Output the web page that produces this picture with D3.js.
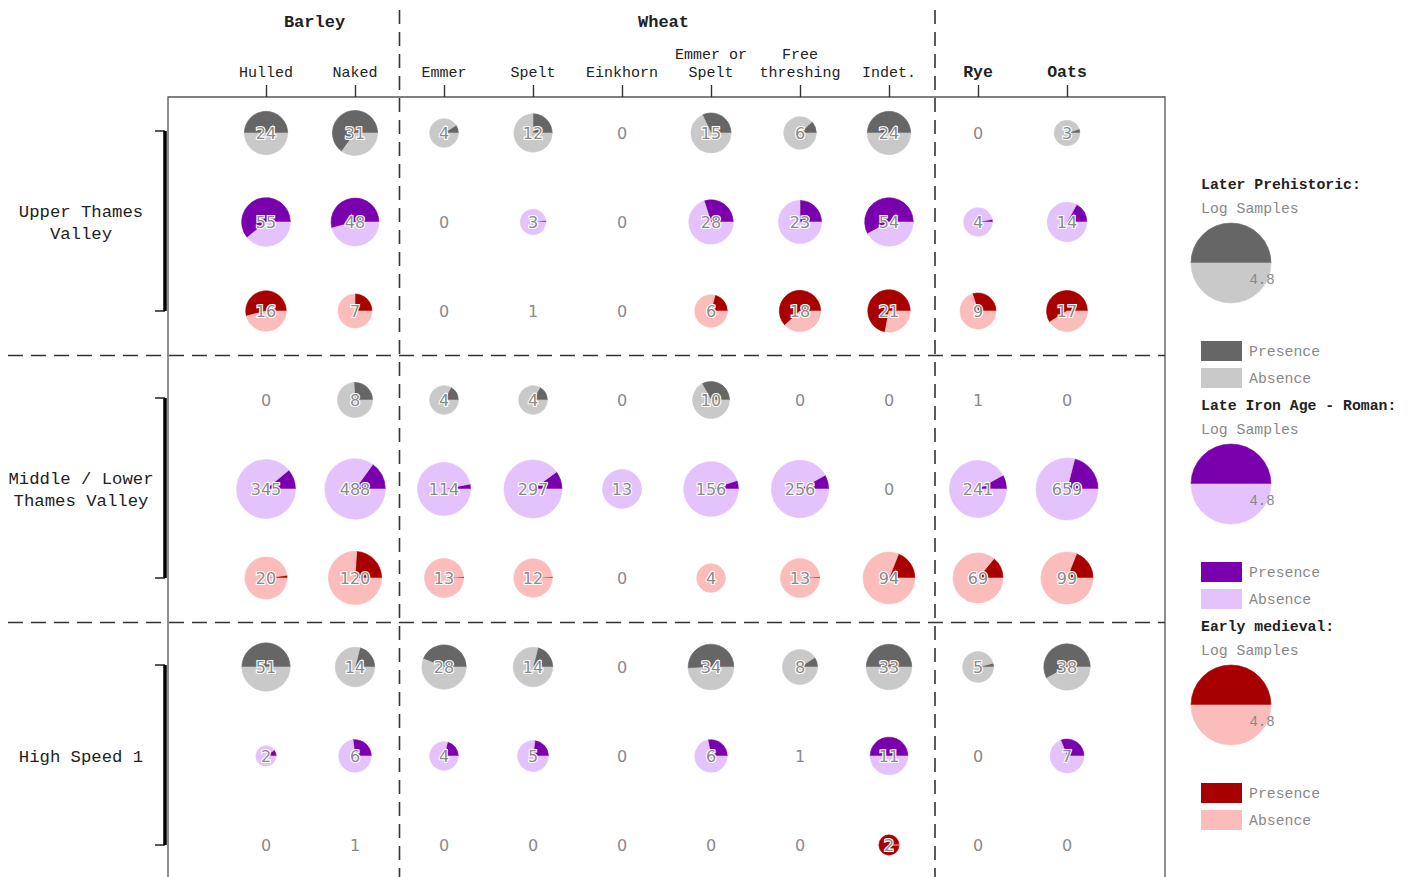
<!DOCTYPE html>
<html><head><meta charset="utf-8">
<script src="https://cdn.jsdelivr.net/npm/d3@7"></script>
<style>body{margin:0;background:#fff}svg{display:block}</style>
</head><body>
<svg id="chart" width="1408" height="877"></svg>
<script>
// ---------- data ----------
const columns = ["Hulled","Naked","Emmer","Spelt","Einkhorn","Emmer or Spelt","Free threshing","Indet.","Rye","Oats"];
const columnLabels = [["Hulled"],["Naked"],["Emmer"],["Spelt"],["Einkhorn"],["Emmer or","Spelt"],["Free","threshing"],["Indet."],["Rye"],["Oats"]];
const boldColumns = ["Rye","Oats"];
const groups = [{name:"Barley", from:"Hulled", to:"Naked"},{name:"Wheat", from:"Emmer", to:"Indet."}];
const regions = ["Upper Thames\nValley","Middle / Lower\nThames Valley","High Speed 1"];
const periods = ["Later Prehistoric","Late Iron Age - Roman","Early medieval"];
const presenceColors = ["#666666","#7a00ad","#a80000"];
const absenceColors = ["#c9c9c9","#e4c3fc","#fbbcbc"];

// samples (n) and presence share, per region x period row
const samplesUTV_LP  = [24,31,4,12,0,15,6,24,0,3];
const presUTV_LP     = [0.50,0.65,0.09,0.25,0,0.32,0.12,0.50,0,0.05];
const samplesUTV_LIA = [55,48,0,3,0,28,23,54,4,14];
const presUTV_LIA    = [0.61,0.54,0,0.02,0,0.30,0.25,0.58,0.03,0.17];
const samplesUTV_EM  = [16,7,0,1,0,6,18,21,9,17];
const presUTV_EM     = [0.54,0.25,0,0,0,0.21,0.62,0.72,0.30,0.59];
const samplesMLTV_LP  = [0,8,4,4,0,10,0,0,1,0];
const presMLTV_LP     = [0,0.26,0.17,0.17,0,0.33,0,0,0,0];
const samplesMLTV_LIA = [345,488,114,297,13,156,256,0,241,659];
const presMLTV_LIA    = [0.11,0.15,0.03,0.10,0,0.05,0.08,0,0.08,0.21];
const samplesMLTV_EM  = [20,120,13,12,0,4,13,94,69,99];
const presMLTV_EM     = [0.02,0.24,0.01,0.01,0,0,0.01,0.19,0.14,0.19];
const samplesHS1_LP  = [51,14,28,14,0,34,8,33,5,38];
const presHS1_LP     = [0.50,0.21,0.44,0.21,0,0.51,0.09,0.50,0.04,0.58];
const samplesHS1_LIA = [2,6,4,5,0,6,1,11,0,7];
const presHS1_LIA    = [0.10,0.27,0.21,0.23,0,0.28,0,0.50,0,0.31];
const samplesHS1_EM  = [0,1,0,0,0,0,0,2,0,0];
const presHS1_EM     = [0,0,0,0,0,0,0,1.0,0,0];

const rowsData = [
  [samplesUTV_LP,presUTV_LP],[samplesUTV_LIA,presUTV_LIA],[samplesUTV_EM,presUTV_EM],
  [samplesMLTV_LP,presMLTV_LP],[samplesMLTV_LIA,presMLTV_LIA],[samplesMLTV_EM,presMLTV_EM],
  [samplesHS1_LP,presHS1_LP],[samplesHS1_LIA,presHS1_LIA],[samplesHS1_EM,presHS1_EM]
];
const legendLog = 4.8;

// ---------- layout ----------
const svg = d3.select("#chart");
const mono = "'Liberation Mono','DejaVu Sans Mono',monospace";
const plot = {left:168, top:97, right:1165, bottom:900};
const x = d3.scalePoint().domain(columns).range([266,1067]);
const rowKeys = d3.range(9);
const y = d3.scalePoint().domain(rowKeys).range([133,845]);
const r = d3.scaleSqrt().domain([0, Math.log(659)]).range([0, 31]);
const rLegend = d3.scaleSqrt().domain([0, legendLog]).range([0, 40]);
const pie = d3.pie().sort(null).value(d=>d).startAngle(Math.PI/2).endAngle(Math.PI/2 - 2*Math.PI);
const arc = d3.arc().innerRadius(0);

// plot frame
svg.append("path")
  .attr("d", `M${plot.left},${plot.bottom}V${plot.top}H${plot.right}V${plot.bottom}`)
  .attr("fill","none").attr("stroke","#555").attr("stroke-width",1.3);

// top axis ticks
const axisTop = d3.axisTop(x).tickSize(12).tickFormat("");
const gAxis = svg.append("g").attr("transform",`translate(0,${plot.top})`).call(axisTop);
gAxis.select(".domain").remove();
gAxis.selectAll("line").attr("stroke","#333").attr("stroke-width",1.4);

// column labels
columns.forEach((c,i)=>{
  const lines = columnLabels[i];
  const bold = boldColumns.includes(c);
  const t = svg.append("text").attr("x",x(c)).attr("text-anchor","middle")
    .attr("font-family",mono).attr("font-size",bold?16.5:15)
    .attr("font-weight",bold?"bold":"normal").attr("fill","#222");
  lines.forEach((ln,j)=>{
    t.append("tspan").attr("x",x(c)).attr("y",77 - (lines.length-1-j)*18).text(ln);
  });
});
// group headers
groups.forEach((g,i)=>{
  svg.append("text").attr("x",(x(g.from)+x(g.to))/2 + (i===0?4:-3)).attr("y",27).attr("text-anchor","middle")
    .attr("font-family",mono).attr("font-size",17).attr("font-weight","bold").attr("fill","#222").text(g.name);
});

// dashed separators
const sepX = [ (x("Naked")+x("Emmer"))/2, (x("Indet.")+x("Rye"))/2 + 1.5 ];
sepX.forEach(sx=>{
  svg.append("line").attr("x1",sx).attr("x2",sx).attr("y1",10).attr("y2",877)
    .attr("stroke","#333").attr("stroke-width",1.6).attr("stroke-dasharray","14,8");
});
const sepY = [ (y(2)+y(3))/2, (y(5)+y(6))/2 ];
sepY.forEach(sy=>{
  svg.append("line").attr("x1",8).attr("x2",plot.right).attr("y1",sy).attr("y2",sy)
    .attr("stroke","#333").attr("stroke-width",1.6).attr("stroke-dasharray","15,8");
});

// region brackets + labels
regions.forEach((reg,i)=>{
  const y0 = y(i*3), y1 = y(i*3+2);
  svg.append("line").attr("x1",165).attr("x2",165).attr("y1",y0-2).attr("y2",y1)
    .attr("stroke","#000").attr("stroke-width",3.5);
  [y0-2,y1].forEach(ty=>svg.append("line").attr("x1",155).attr("x2",165).attr("y1",ty).attr("y2",ty)
    .attr("stroke","#000").attr("stroke-width",1.3));
  const lines = reg.split("\n");
  const cy = (y0+y1)/2;
  const t = svg.append("text").attr("text-anchor","middle").attr("font-family",mono)
    .attr("font-size",17.3).attr("fill","#222");
  lines.forEach((ln,j)=>{
    t.append("tspan").attr("x",81).attr("y",cy + 6 + (j-(lines.length-1)/2)*22).text(ln);
  });
});

// cells
rowsData.forEach(([samples,pres],ri)=>{
  const p = ri % 3;
  columns.forEach((c,ci)=>{
    const n = samples[ci], f = pres[ci];
    const cx = x(c), cy = y(ri);
    const g = svg.append("g").attr("transform",`translate(${cx},${cy})`);
    const rad = n>0 ? r(Math.log(n)) : 0;
    if (rad>0){
      const arcs = pie([f,1-f]);
      g.selectAll("path").data(arcs).enter().append("path")
        .attr("d", d=>arc.outerRadius(rad)(d))
        .attr("fill",(d,k)=>k===0?presenceColors[p]:absenceColors[p])
        .attr("stroke",(d,k)=>k===0?presenceColors[p]:absenceColors[p]).attr("stroke-width",0.6);
      g.append("text").attr("text-anchor","middle").attr("y",6)
        .attr("font-family","'DejaVu Sans',sans-serif").attr("font-size",16)
        .attr("fill","#8a8a8a").attr("stroke","#fff").attr("stroke-width",2.2)
        .attr("paint-order","stroke").text(n);
    } else {
      g.append("text").attr("text-anchor","middle").attr("y",6)
        .attr("font-family","'DejaVu Sans',sans-serif").attr("font-size",16)
        .attr("fill","#8a8a8a").text(n);
    }
  });
});

// legend
const legendTops = [184,405,626];
periods.forEach((per,i)=>{
  const ty = legendTops[i];
  svg.append("text").attr("x",1201).attr("y",ty+5).attr("font-family",mono).attr("font-size",14.8)
    .attr("font-weight","bold").attr("fill","#222").text(per+":");
  svg.append("text").attr("x",1201).attr("y",ty+29).attr("font-family",mono).attr("font-size",14.8)
    .attr("fill","#888").text("Log Samples");
  const g = svg.append("g").attr("transform",`translate(1231,${ty+79})`);
  const lr = rLegend(legendLog);
  g.selectAll("path").data(pie([0.5,0.5])).enter().append("path")
    .attr("d",d=>arc.outerRadius(lr)(d))
    .attr("fill",(d,k)=>k===0?presenceColors[i]:absenceColors[i])
    .attr("stroke",(d,k)=>k===0?presenceColors[i]:absenceColors[i]).attr("stroke-width",0.6);
  g.append("text").attr("x",31).attr("y",21).attr("text-anchor","middle").attr("font-family",mono)
    .attr("font-size",14).attr("fill","#888").text(legendLog);
  [["Presence",presenceColors[i]],["Absence",absenceColors[i]]].forEach(([lab,col],k)=>{
    const sy = ty+157+k*27;
    svg.append("rect").attr("x",1201).attr("y",sy).attr("width",41).attr("height",20).attr("fill",col);
    svg.append("text").attr("x",1249).attr("y",sy+15).attr("font-family",mono).attr("font-size",14.8)
      .attr("fill","#888").text(lab);
  });
});
</script>
</body></html>
